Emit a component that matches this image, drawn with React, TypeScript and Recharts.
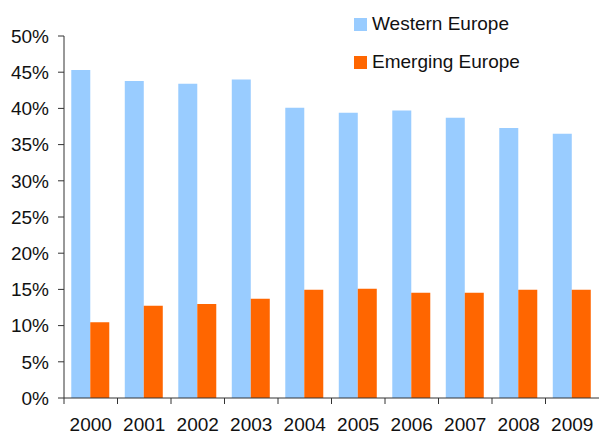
import { BarChart, Bar, XAxis, YAxis } from "recharts"

const years = ["2000", "2001", "2002", "2003", "2004", "2005", "2006", "2007", "2008", "2009"]
const western = [45.3, 43.8, 43.4, 44.0, 40.1, 39.4, 39.7, 38.7, 37.3, 36.5]
const emerging = [10.45, 12.75, 13.0, 13.7, 14.95, 15.1, 14.55, 14.55, 14.95, 14.95]
const yTicks = [0, 5, 10, 15, 20, 25, 30, 35, 40, 45, 50]

const seriesNames = { western: "Western Europe", emerging: "Emerging Europe" }
const colors = { western: "#99CCFF", emerging: "#FF6600" }

const data = years.map((year, i) => ({ year, western: western[i], emerging: emerging[i] }))

const W = 599
const H = 435
const AXIS_W = 64
const FONT = "'Liberation Sans', Arial, sans-serif"
const FS = 19
const band = (W - AXIS_W) / years.length

// ticks sit between categories, labels stay centred
function YearTick(props: any) {
  const { x, y, payload } = props
  const left = x - band / 2
  return (
    <g>
      <line x1={left} y1={y - 8} x2={left} y2={y - 2} stroke="#333" strokeWidth={1} />
      <text x={x} y={y + 25} textAnchor="middle" fontSize={FS} fontFamily={FONT} fill="#111">
        {payload.value}
      </text>
    </g>
  )
}

function LegendBox() {
  const items = [
    { key: "western", top: 0 },
    { key: "emerging", top: 38 },
  ] as const
  return (
    <div style={{ position: "absolute", top: 13, left: 354, fontFamily: FONT, fontSize: FS, color: "#111" }}>
      {items.map((it) => (
        <div key={it.key} style={{ position: "absolute", top: it.top, left: 0, display: "flex", alignItems: "center", whiteSpace: "nowrap" }}>
          <span style={{ width: 13, height: 13, background: colors[it.key], display: "inline-block", marginRight: 5 }} />
          <span>{seriesNames[it.key]}</span>
        </div>
      ))}
    </div>
  )
}

export default function App() {
  return (
    <div style={{ position: "absolute", left: 0, top: 0, width: W, height: H, background: "#fff" }}>
      <BarChart
        width={W}
        height={H}
        data={data}
        margin={{ top: 36, right: 0, left: 0, bottom: 0 }}
        barCategoryGap="13.6%"
        barGap={0}
      >
        <XAxis
          dataKey="year"
          height={37}
          tickLine={false}
          axisLine={{ stroke: "#333" }}
          tick={<YearTick />}
          interval={0}
        />
        <YAxis
          width={AXIS_W}
          domain={[0, 50]}
          ticks={yTicks}
          interval={0}
          tickFormatter={(v) => `${v}%`}
          tickSize={6}
          tickMargin={9}
          axisLine={{ stroke: "#333" }}
          tickLine={{ stroke: "#333" }}
          tick={{ fontSize: FS, fontFamily: FONT, fill: "#111" }}
        />
        <Bar dataKey="western" name={seriesNames.western} fill={colors.western} isAnimationActive={false} />
        <Bar dataKey="emerging" name={seriesNames.emerging} fill={colors.emerging} isAnimationActive={false} />
      </BarChart>
      <LegendBox />
    </div>
  )
}
